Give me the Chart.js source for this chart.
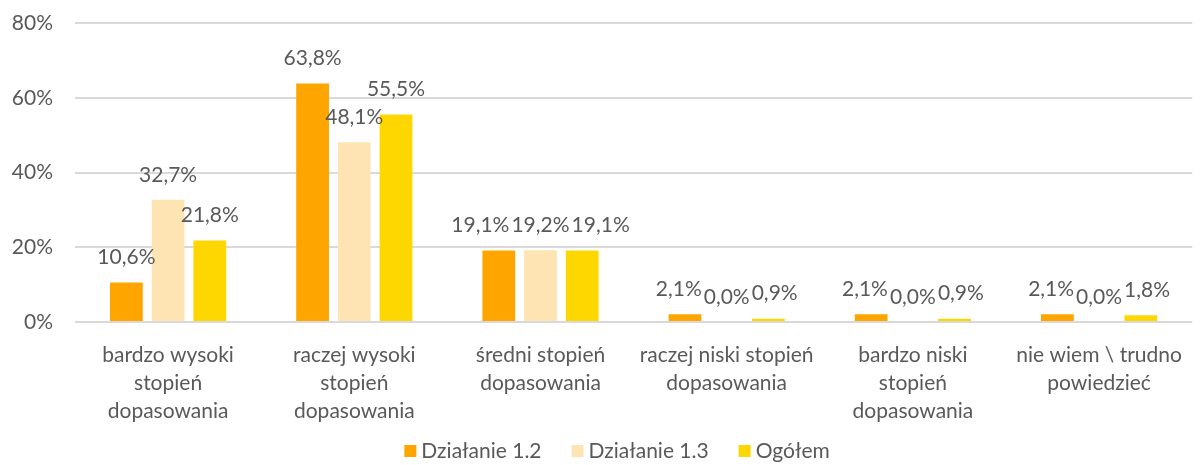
<!DOCTYPE html>
<html>
<head>
<meta charset="utf-8">
<script src="https://cdn.jsdelivr.net/npm/chart.js@4/dist/chart.umd.min.js"></script>
<style>
    html, body { margin: 0; padding: 0; background: #ffffff; }
    #wrap { width: 1201px; height: 465px; position: relative; }
</style>
</head>
<body>
<div id="wrap"><canvas id="report-bar-chart"></canvas></div>
<script>
// Categories (split into lines like the original axis labels)
const categories = [
    ['bardzo wysoki', 'stopień', 'dopasowania'],
    ['raczej wysoki', 'stopień', 'dopasowania'],
    ['średni stopień', 'dopasowania'],
    ['raczej niski stopień', 'dopasowania'],
    ['bardzo niski', 'stopień', 'dopasowania'],
    ['nie wiem \\ trudno', 'powiedzieć']
];

const seriesNames = ['Działanie 1.2', 'Działanie 1.3', 'Ogółem'];
const dzialanie12 = [10.6, 63.8, 19.1, 2.1, 2.1, 2.1];
const dzialanie13 = [32.7, 48.1, 19.2, 0.0, 0.0, 0.0];
const ogolem = [21.8, 55.5, 19.1, 0.9, 0.9, 1.8];
const seriesColors = ['#FFA500', '#FFE4B3', '#FFD700'];

const yTicks = [0, 20, 40, 60, 80];

const textColor = '#595959';
const fontFamily = 'Lato, "Open Sans", sans-serif';
const fontSize = 21;

function formatPct(v) {
    return v.toFixed(1).replace('.', ',') + '%';
}

// Value labels above each bar; labels that would collide get pushed
// sideways from the middle one (like Excel does)
const barLabels = {
    id: 'barLabels',
    afterDatasetsDraw(chart) {
        const ctx = chart.ctx;
        const datasets = chart.data.datasets;
        ctx.save();
        ctx.fillStyle = textColor;
        ctx.font = fontSize + 'px ' + fontFamily;
        ctx.textAlign = 'center';
        ctx.textBaseline = 'middle';

        chart.data.labels.forEach((cat, j) => {
            const items = datasets.map((ds, i) => {
                const bar = chart.getDatasetMeta(i).data[j];
                const text = formatPct(ds.data[j]);
                return { text: text, x: bar.x, y: bar.y - 25, w: ctx.measureText(text).width };
            });
            const mid = Math.floor(items.length / 2);
            const gap = 2;
            const collide = (a, b) => Math.abs(a.y - b.y) < fontSize &&
                Math.abs(a.x - b.x) < (a.w + b.w) / 2 + gap;
            for (let i = mid - 1; i >= 0; i--) {
                const n = items[i + 1];
                if (collide(items[i], n)) items[i].x = n.x - (items[i].w + n.w) / 2 - gap;
            }
            for (let i = mid + 1; i < items.length; i++) {
                const p = items[i - 1];
                if (collide(items[i], p)) items[i].x = p.x + (items[i].w + p.w) / 2 + gap;
            }
            items.forEach(it => ctx.fillText(it.text, it.x, it.y));
        });
        ctx.restore();
    }
};

// Bottom legend drawn by hand so box/text spacing matches the original
const bottomLegend = {
    id: 'bottomLegend',
    afterDraw(chart) {
        const ctx = chart.ctx;
        const box = 12, boxGap = 5, itemGap = 30;
        const y = 451;
        ctx.save();
        ctx.font = fontSize + 'px ' + fontFamily;
        ctx.textBaseline = 'middle';
        ctx.textAlign = 'left';
        const items = chart.data.datasets.map(ds => ({
            text: ds.label,
            color: ds.backgroundColor,
            w: box + boxGap + ctx.measureText(ds.label).width
        }));
        const total = items.reduce((s, it) => s + it.w, 0) + itemGap * (items.length - 1);
        const center = (chart.width / 2 + (chart.chartArea.left + chart.chartArea.right) / 2) / 2;
        let x = center - total / 2;
        items.forEach(it => {
            ctx.fillStyle = it.color;
            ctx.fillRect(x, y - box / 2, box, box);
            ctx.fillStyle = textColor;
            ctx.fillText(it.text, x + box + boxGap, y);
            x += it.w + itemGap;
        });
        ctx.restore();
    }
};

function initializeChart() {
    const canvas = document.getElementById('report-bar-chart');
    const allSeries = [dzialanie12, dzialanie13, ogolem];

    new Chart(canvas, {
        type: 'bar',
        data: {
            labels: categories,
            datasets: allSeries.map((values, i) => ({
                label: seriesNames[i],
                data: values,
                backgroundColor: seriesColors[i],
                borderWidth: 0,
                categoryPercentage: 0.672,
                barPercentage: 0.786
            }))
        },
        options: {
            responsive: true,
            maintainAspectRatio: false,
            animation: false,
            layout: {
                padding: { top: 0, right: 1, left: 0, bottom: 33 }
            },
            plugins: {
                legend: { display: false },
                tooltip: { enabled: false }
            },
            scales: {
                x: {
                    grid: { display: false, drawTicks: false },
                    border: { display: false },
                    afterFit(axis) {
                        axis.height = 110;
                    },
                    ticks: {
                        color: textColor,
                        font: { size: fontSize, family: fontFamily, lineHeight: '28px' },
                        padding: 19,
                        maxRotation: 0,
                        autoSkip: false
                    }
                },
                y: {
                    min: 0,
                    max: 80,
                    afterBuildTicks(axis) {
                        axis.ticks = yTicks.map(v => ({ value: v }));
                    },
                    afterFit(axis) {
                        axis.width = 75;
                        axis.paddingTop = 23;
                    },
                    grid: { color: '#D9D9D9', lineWidth: 2, drawTicks: false },
                    border: { display: false },
                    ticks: {
                        color: textColor,
                        font: { size: fontSize, family: fontFamily },
                        padding: 22,
                        callback: v => v + '%'
                    }
                }
            }
        },
        plugins: [barLabels, bottomLegend]
    });
}

document.addEventListener('DOMContentLoaded', initializeChart);
</script>
</body>
</html>
